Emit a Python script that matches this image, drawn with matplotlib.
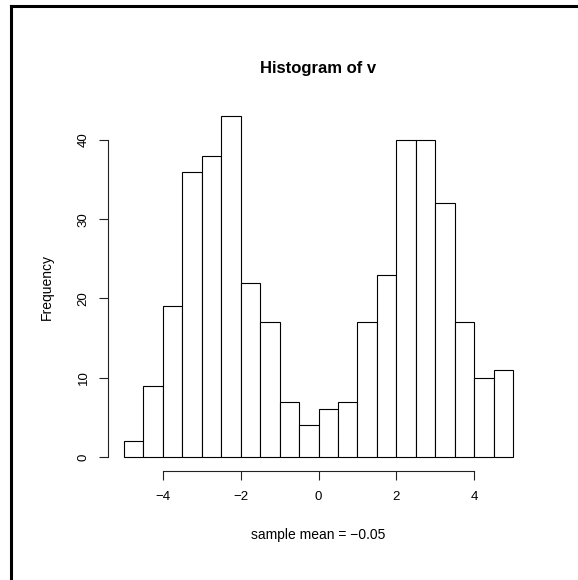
import matplotlib
matplotlib.use("Agg")
import matplotlib.pyplot as plt
from matplotlib.lines import Line2D

# Data
bin_edges = [-5.0, -4.5, -4.0, -3.5, -3.0, -2.5, -2.0, -1.5, -1.0, -0.5, 0.0,
             0.5, 1.0, 1.5, 2.0, 2.5, 3.0, 3.5, 4.0, 4.5, 5.0]
counts = [2, 9, 19, 36, 38, 43, 22, 17, 7, 4, 6, 7, 17, 23, 40, 40, 32, 17, 10, 11]
x_ticks = [-4, -2, 0, 2, 4]
y_ticks = [0, 10, 20, 30, 40]
title = "Histogram of v"
xlabel = "sample mean = \u22120.05"
ylabel = "Frequency"

plt.rcParams['font.family'] = ['Liberation Sans', 'DejaVu Sans']

W, H = 578, 580
fig = plt.figure(figsize=(W / 100, H / 100), dpi=100)
fig.patch.set_facecolor("white")

left, right, top, bottom = 108.4, 528.6, 102.6, 470.6
ax = fig.add_axes([left / W, 1 - bottom / H, (right - left) / W, (bottom - top) / H])

widths = [bin_edges[i + 1] - bin_edges[i] for i in range(len(counts))]
ax.bar(bin_edges[:-1], counts, width=widths, align='edge',
       facecolor='white', edgecolor='black', linewidth=0.8)

xr = bin_edges[-1] - bin_edges[0]
ax.set_xlim(bin_edges[0] - 0.04 * xr, bin_edges[-1] + 0.04 * xr)
ymax = max(counts)
ax.set_ylim(-0.04 * ymax, ymax * 1.04)

for s in ['top', 'right']:
    ax.spines[s].set_visible(False)
ax.spines['left'].set_bounds(y_ticks[0], y_ticks[-1])
ax.spines['bottom'].set_bounds(x_ticks[0], x_ticks[-1])
for s in ['left', 'bottom']:
    ax.spines[s].set_linewidth(0.8)
    ax.spines[s].set_color('#222222')

ax.set_xticks(x_ticks)
ax.set_xticklabels([str(t).replace('-', '\u2212') for t in x_ticks])
ax.set_yticks(y_ticks)
ax.set_yticklabels([str(t) for t in y_ticks], rotation=90, va='center')
ax.tick_params(axis='both', length=6.5, width=0.8, labelsize=9.5, color='#222222')
ax.tick_params(axis='x', pad=8)
ax.tick_params(axis='y', pad=7)

fig.text(318.5 / W, 1 - 73 / H, title, ha='center', va='baseline',
         fontsize=12, fontweight='bold')
fig.text(318.5 / W, 1 - 539 / H, xlabel, ha='center', va='baseline', fontsize=10)
fig.text(47 / W, 1 - 286.6 / H, ylabel, ha='center', va='center',
         rotation=90, fontsize=10)

# outer border (partly clipped at right/bottom)
fig.add_artist(Line2D([10.5 / W, 1.2], [1 - 6 / H, 1 - 6 / H],
                      transform=fig.transFigure, color='black', linewidth=2.2))
fig.add_artist(Line2D([10.5 / W, 10.5 / W], [1 - 6 / H, -0.2],
                      transform=fig.transFigure, color='black', linewidth=2.2,
                      solid_capstyle='projecting'))

fig.savefig("out.png", dpi=100, facecolor='white')
